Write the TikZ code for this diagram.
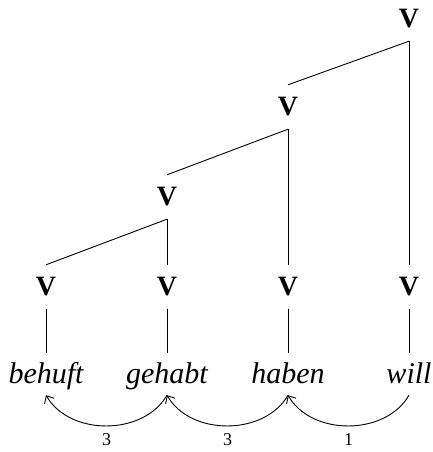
\documentclass[tikz,border=0pt]{standalone}
\usepackage{fontspec}
\setmainfont{Liberation Serif}
\usetikzlibrary{arrows.meta}
\begin{document}
\begin{tikzpicture}[x=1pt,y=-1pt,
  vnode/.style={font=\bfseries\fontsize{28}{32}\selectfont, inner sep=0pt, minimum height=44pt},
  wnode/.style={font=\itshape\fontsize{30}{34}\selectfont, inner xsep=0pt, inner ysep=6pt, text height=24pt, text depth=6pt, anchor=base},
  edge/.style={line width=0.9pt},
  arc/.style={line width=0.9pt, -{Straight Barb[length=6pt,width=11pt]}},
  num/.style={font=\fontsize{18}{21}\selectfont}]
\useasboundingbox (0,0) rectangle (433,452);
\node[vnode] (t) at (409,19) {V};
\node[vnode] (a) at (288,107) {V};
\node[vnode] (b) at (167,197) {V};
\node[vnode] (v1) at (46,287) {V};
\node[vnode] (v2) at (167,287) {V};
\node[vnode] (v3) at (288,287) {V};
\node[vnode] (v4) at (409,287) {V};
\node[wnode] (w1) at (46,383) {behuft};
\node[wnode] (w2) at (167,383) {gehabt};
\node[wnode] (w3) at (288,383) {haben};
\node[wnode] (w4) at (409,383) {will};
\draw[edge] (t.south) -- (a.north);
\draw[edge] (t.south) -- (v4.north);
\draw[edge] (a.south) -- (b.north);
\draw[edge] (a.south) -- (v3.north);
\draw[edge] (b.south) -- (v1.north);
\draw[edge] (b.south) -- (v2.north);
\draw[edge] (v1.south) -- (w1.north);
\draw[edge] (v2.south) -- (w2.north);
\draw[edge] (v3.south) -- (w3.north);
\draw[edge] (v4.south) -- (w4.north);
\draw[arc] (w4.south) to[out=-120,in=-60] node[num, midway, below=4pt] (n1) {1} (w3.south);
\draw[arc] (w3.south) to[out=-120,in=-60] node[num, midway, below=4pt] (n2) {3} (w2.south);
\draw[arc] (w2.south) to[out=-120,in=-60] node[num, midway, below=4pt] (n3) {3} (w1.south);
\end{tikzpicture}
\end{document}
